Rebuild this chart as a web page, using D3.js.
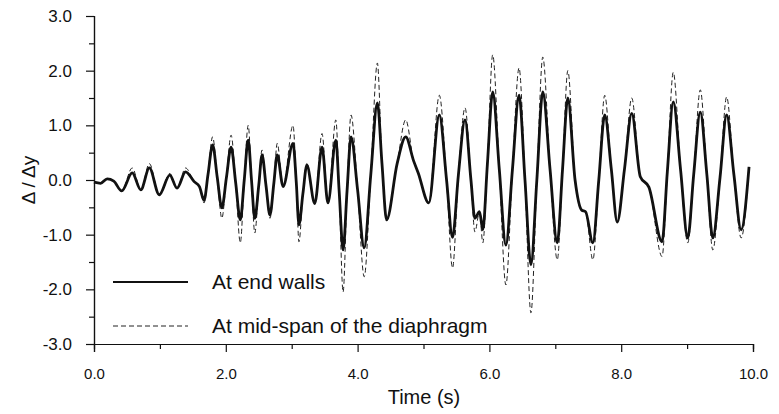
<!DOCTYPE html>
<html>
<head>
<meta charset="utf-8">
<script src="https://cdn.jsdelivr.net/npm/d3@7"></script>
<style>
  body { margin: 0; background: #fff; }
  text { font-family: "Liberation Sans", Arial, sans-serif; fill: #111; }
</style>
</head>
<body>
<div id="chart"></div>
<script>
// time (s) at the peaks, troughs and crossings
var time = [0.00, 0.10, 0.20, 0.30, 0.42, 0.58, 0.71, 0.84, 0.99, 1.15, 1.26, 1.39, 1.52, 1.60, 1.67, 1.73,
  1.80, 1.87, 1.94, 2.01, 2.08, 2.15, 2.22, 2.28, 2.34, 2.39, 2.44, 2.50, 2.55, 2.61, 2.67, 2.73,
  2.78, 2.87, 3.02, 3.07, 3.11, 3.17, 3.23, 3.35, 3.46, 3.55, 3.67, 3.72, 3.78, 3.84, 3.90, 4.00,
  4.10, 4.20, 4.30, 4.37, 4.44, 4.60, 4.73, 4.85, 4.92, 5.08, 5.24, 5.35, 5.44, 5.53, 5.63, 5.72,
  5.78, 5.85, 5.90, 5.97, 6.05, 6.15, 6.25, 6.35, 6.45, 6.54, 6.63, 6.72, 6.81, 6.92, 7.03, 7.11,
  7.19, 7.30, 7.40, 7.46, 7.57, 7.66, 7.75, 7.85, 7.94, 8.05, 8.16, 8.29, 8.42, 8.62, 8.70, 8.79,
  8.90, 9.01, 9.10, 9.20, 9.30, 9.39, 9.50, 9.60, 9.71, 9.82, 9.94];

// "At end walls"
var endWalls = [-0.04, -0.06, 0.02, -0.02, -0.20, 0.13, -0.18, 0.22, -0.27, 0.09, -0.15, 0.15, -0.03, -0.12, -0.37, 0.10,
  0.64, 0.05, -0.51, 0.05, 0.60, -0.05, -0.73, 0.00, 0.73, 0.00, -0.70, -0.10, 0.46, -0.10, -0.64, -0.05,
  0.46, -0.12, 0.67, -0.05, -0.82, -0.25, 0.27, -0.43, 0.60, -0.42, 0.73, -0.20, -1.28, -0.20, 0.79, -0.18,
  -1.24, 0.10, 1.41, 0.30, -0.73, 0.30, 0.79, 0.35, 0.13, -0.42, 1.19, 0.00, -1.05, 0.10, 1.10, 0.00,
  -0.70, -0.58, -0.91, 0.30, 1.61, 0.20, -1.19, 0.20, 1.55, 0.00, -1.55, 0.00, 1.61, 0.20, -1.15, 0.20,
  1.50, 0.00, -0.55, -0.58, -1.15, 0.00, 1.19, 0.20, -0.77, 0.20, 1.22, 0.06, -0.13, -1.13, 0.15, 1.43,
  0.20, -1.06, 0.10, 1.24, 0.10, -1.06, 0.05, 1.19, 0.10, -0.91, 0.24];

// "At mid-span of the diaphragm"
var midSpan = [-0.04, -0.06, 0.02, -0.02, -0.20, 0.22, -0.18, 0.30, -0.27, 0.12, -0.15, 0.22, -0.03, -0.12, -0.42, 0.12,
  0.79, 0.05, -0.70, 0.05, 0.82, -0.05, -1.15, 0.00, 1.00, 0.00, -0.97, -0.10, 0.55, -0.10, -0.70, -0.05,
  0.67, -0.12, 1.00, -0.05, -1.13, -0.25, 0.30, -0.43, 0.85, -0.42, 1.10, -0.20, -2.05, -0.20, 1.19, -0.18,
  -1.77, 0.10, 2.14, 0.30, -0.73, 0.30, 1.10, 0.35, 0.13, -0.42, 1.55, 0.00, -1.61, 0.10, 1.32, 0.00,
  -0.95, -0.58, -1.15, 0.30, 2.29, 0.20, -1.92, 0.20, 2.05, 0.00, -2.43, 0.00, 2.25, 0.20, -1.46, 0.20,
  2.00, 0.00, -0.55, -0.58, -1.46, 0.00, 1.55, 0.20, -0.77, 0.20, 1.50, 0.06, -0.13, -1.40, 0.15, 1.97,
  0.20, -1.15, 0.10, 1.65, 0.10, -1.28, 0.05, 1.52, 0.10, -1.06, 0.24];

var xTicks = [0, 2, 4, 6, 8, 10];
var yTicks = [-3, -2, -1, 0, 1, 2, 3];
var legendLabels = ["At end walls", "At mid-span of the diaphragm"];

var W = 779, H = 414;
var svg = d3.select("#chart").append("svg").attr("width", W).attr("height", H);

var x = d3.scaleLinear().domain([0, 10]).range([94, 753]);
var y = d3.scaleLinear().domain([-3, 3]).range([344, 16]);

// plain hyphen minus like the original
var fmt = function(d) { return d.toFixed(1); };

// axes: major ticks labelled, minor ticks between
var xAxis = d3.axisBottom(x).tickValues(xTicks).tickFormat(fmt).tickSize(8).tickPadding(16);
var xMinor = d3.axisBottom(x).tickValues(d3.range(1, 10, 2)).tickFormat("").tickSize(5);
var yAxis = d3.axisLeft(y).tickValues(yTicks).tickFormat(fmt).tickSize(8).tickPadding(14);
var yMinor = d3.axisLeft(y).tickValues(d3.range(-2.5, 3, 1)).tickFormat("").tickSize(5);

var gx = svg.append("g").attr("transform", "translate(0,344)").call(xAxis);
svg.append("g").attr("transform", "translate(0,344)").call(xMinor);
var gy = svg.append("g").attr("transform", "translate(94,0)").call(yAxis);
svg.append("g").attr("transform", "translate(94,0)").call(yMinor);

svg.selectAll(".domain").attr("stroke", "#111").attr("stroke-width", 1.2);
svg.selectAll(".tick line").attr("stroke", "#111").attr("stroke-width", 1.2);
svg.selectAll(".tick text").style("font-family", "Liberation Sans, Arial, sans-serif").attr("fill", "#111");
gx.selectAll(".tick text").style("font-size", "15px");
gy.selectAll(".tick text").style("font-size", "17px");

svg.append("text").attr("x", 424).attr("y", 404).attr("text-anchor", "middle")
  .style("font-size", "20px").text("Time (s)");
svg.append("text").attr("transform", "translate(35,180) rotate(-90)").attr("text-anchor", "middle")
  .style("font-size", "19px").text("Δ / Δy");

var mid = d3.line().x(function(d, i) { return x(time[i]); }).y(function(d) { return y(d); }).curve(d3.curveMonotoneX);

svg.append("path").datum(midSpan).attr("d", mid)
  .attr("fill", "none").attr("stroke", "#222").attr("stroke-width", 1).attr("stroke-dasharray", "5,3");
svg.append("path").datum(endWalls).attr("d", mid)
  .attr("fill", "none").attr("stroke", "#111").attr("stroke-width", 2.8).attr("stroke-linejoin", "round");

// legend
var leg = svg.append("g");
leg.append("line").attr("x1", 113).attr("x2", 188).attr("y1", 282).attr("y2", 282)
  .attr("stroke", "#111").attr("stroke-width", 2);
leg.append("line").attr("x1", 113).attr("x2", 188).attr("y1", 326).attr("y2", 326)
  .attr("stroke", "#222").attr("stroke-width", 1).attr("stroke-dasharray", "5,3");
leg.selectAll("text.lab").data(legendLabels).enter().append("text")
  .attr("x", 212).attr("y", function(d, i) { return 289 + i * 44; })
  .style("font-size", "21px").text(function(d) { return d; });
</script>
</body>
</html>
